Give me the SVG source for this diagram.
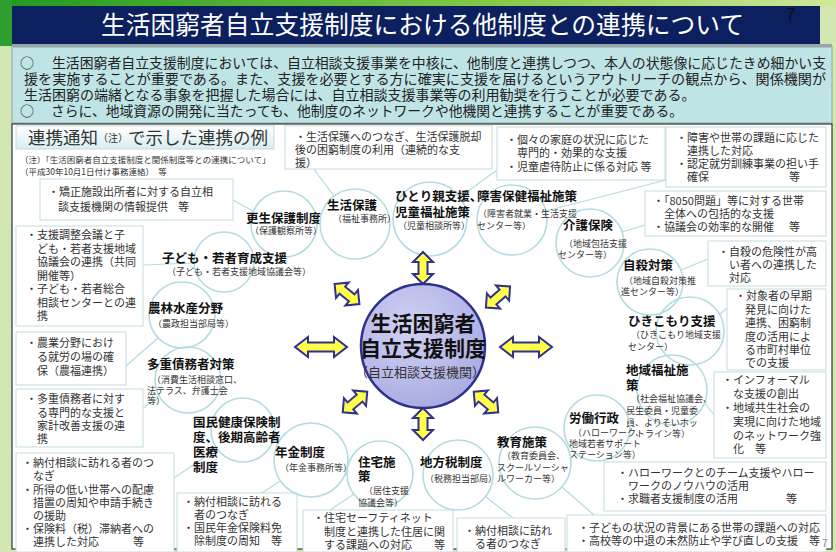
<svg xmlns="http://www.w3.org/2000/svg" width="836" height="552" viewBox="0 0 836 552">
<defs>
<style>
text{font-family:"Noto Sans CJK JP","Noto Sans CJK SC",sans-serif}
.bx{fill:#fff;stroke:#c4dbde;stroke-width:1}
.bt{font-size:11px;fill:#333}
.ci{fill:none;stroke:#b3dce1;stroke-width:1.6}
.cn line{stroke:#b3dce1;stroke-width:1.2}
.nt{font-size:12.5px;font-weight:bold;fill:#111}
.ns{font-size:9px;fill:#333}
.ar{fill:#ffff4a;stroke:#2e318f;stroke-width:2;stroke-linejoin:miter}
.intro{font-size:14px;fill:#222}
</style>
<linearGradient id="topg" x1="0" x2="1" y1="0" y2="0"><stop offset="0" stop-color="#1f9a1f"/><stop offset="0.6" stop-color="#86c94a"/><stop offset="1" stop-color="#cfe89a"/></linearGradient>
<radialGradient id="cg" cx="0.4" cy="0.35" r="0.75"><stop offset="0" stop-color="#d0d1f4"/><stop offset="1" stop-color="#a6a8e0"/></radialGradient>
<linearGradient id="bang" x1="0" y1="0" x2="0" y2="1"><stop offset="0" stop-color="#ffffff"/><stop offset="1" stop-color="#d8edf0"/></linearGradient>
<path id="ah" d="M-26,0 L-13,-10 L-13,-4.5 L13,-4.5 L13,-10 L26,0 L13,10 L13,4.5 L-13,4.5 L-13,10 Z"/>
<path id="as" d="M-16,0 L-6,-10 L-6,-4.5 L6,-4.5 L6,-10 L16,0 L6,10 L6,4.5 L-6,4.5 L-6,10 Z"/>
</defs>

<!-- page background -->
<rect x="0" y="0" width="836" height="552" fill="#d3e7b3"/>
<rect x="0" y="0" width="836" height="7" fill="url(#topg)"/>
<rect x="0" y="0" width="12" height="46" fill="#2f9e2f"/>
<rect x="12" y="6" width="808" height="38" fill="#0c1f5e"/>
<text x="101" y="34" font-size="25" fill="#fff" textLength="643" lengthAdjust="spacingAndGlyphs">生活困窮者自立支援制度における他制度との連携について</text>
<text x="786" y="20" font-size="17" fill="#111">7</text>
<rect x="12" y="44" width="820" height="3" fill="#9aa6a8"/>
<rect x="12" y="47" width="820" height="76" fill="#bfe4e6" stroke="#8fa5a8" stroke-width="1"/>
<text class="intro" x="20" y="68">○</text>
<text class="intro" x="52" y="68" textLength="774" lengthAdjust="spacingAndGlyphs">生活困窮者自立支援制度においては、自立相談支援事業を中核に、他制度と連携しつつ、本人の状態像に応じたきめ細かい支</text>
<text class="intro" x="24" y="84" textLength="802" lengthAdjust="spacingAndGlyphs">援を実施することが重要である。また、支援を必要とする方に確実に支援を届けるというアウトリーチの観点から、関係機関が</text>
<text class="intro" x="24" y="100">生活困窮の端緒となる事象を把握した場合には、自立相談支援事業等の利用勧奨を行うことが必要である。</text>
<text class="intro" x="20" y="116">○</text>
<text class="intro" x="51" y="116" textLength="632" lengthAdjust="spacingAndGlyphs">さらに、地域資源の開発に当たっても、他制度のネットワークや他機関と連携することが重要である。</text>

<rect x="12" y="124" width="820" height="425" fill="#fff" stroke="#333" stroke-width="1.2"/>

<!-- heading banner -->
<rect x="16" y="126" width="258" height="23" fill="url(#bang)" stroke="#c4dbde"/>
<text x="28" y="144" font-size="17.5" fill="#333">連携通知<tspan font-size="10" dy="-2">（注）</tspan><tspan dy="2">で示した連携の例</tspan></text>
<text x="20" y="163" font-size="8.5" fill="#333">（注）「生活困窮者自立支援制度と関係制度等との連携について」</text>
<text x="20" y="175" font-size="8.5" fill="#333">（平成30年10月1日付け事務連絡）　等</text>

<!-- connectors -->
<g id="connectors" class="cn">
<line x1="233" y1="200" x2="253" y2="211"/>
<line x1="143" y1="265" x2="194" y2="263"/>
<line x1="126" y1="366" x2="158" y2="338"/>
<line x1="143" y1="408" x2="158" y2="398"/>
<line x1="174" y1="478" x2="215" y2="450"/>
<line x1="262" y1="493" x2="280" y2="481"/>
<line x1="330" y1="510" x2="354" y2="494"/>
<line x1="513" y1="518" x2="486" y2="497"/>
<line x1="594" y1="515" x2="562" y2="487"/>
<line x1="714" y1="415" x2="704" y2="402"/>
<line x1="727" y1="308" x2="719" y2="315"/>
<line x1="708" y1="259" x2="681" y2="270"/>
<line x1="645" y1="225" x2="622" y2="232"/>
<line x1="666" y1="180" x2="546" y2="211"/>
<line x1="497" y1="170" x2="460" y2="197"/>
<line x1="313" y1="168" x2="334" y2="196"/>
</g>

<!-- text boxes -->
<g id="box-kosei-info">
<rect class="bx" x="40" y="179" width="193" height="41"/>
<text class="bt" x="48" y="196">・矯正施設出所者に対する自立相</text>
<text class="bt" x="58" y="211">談支援機関の情報提供</text>
<text class="bt" x="178" y="211">等</text>
</g>
<g id="box-kodomo-info">
<rect class="bx" x="16" y="226" width="127" height="100"/>
<text class="bt" x="26" y="239">・支援調整会議と子</text>
<text class="bt" x="37" y="253">ども・若者支援地域</text>
<text class="bt" x="37" y="266">協議会の連携（共同</text>
<text class="bt" x="37" y="280">開催等）</text>
<text class="bt" x="26" y="293">・子ども・若者総合</text>
<text class="bt" x="37" y="307">相談センターとの連</text>
<text class="bt" x="37" y="320">携</text>
</g>
<g id="box-nourin-info">
<rect class="bx" x="16" y="332" width="110" height="53"/>
<text class="bt" x="26" y="347">・農業分野におけ</text>
<text class="bt" x="37" y="361">る就労の場の確</text>
<text class="bt" x="37" y="375">保（農福連携）</text>
</g>
<g id="box-tajuu-info">
<rect class="bx" x="16" y="389" width="127" height="58"/>
<text class="bt" x="26" y="403">・多重債務者に対す</text>
<text class="bt" x="37" y="417">る専門的な支援と</text>
<text class="bt" x="37" y="430">家計改善支援の連</text>
<text class="bt" x="37" y="443">携</text>
</g>
<g id="box-kokuho-info">
<rect class="bx" x="16" y="453" width="158" height="99"/>
<text class="bt" x="22" y="467">・納付相談に訪れる者のつ</text>
<text class="bt" x="33" y="480">なぎ</text>
<text class="bt" x="22" y="494">・所得の低い世帯への配慮</text>
<text class="bt" x="33" y="507">措置の周知や申請手続き</text>
<text class="bt" x="33" y="520">の援助</text>
<text class="bt" x="22" y="533">・保険料（税）滞納者への</text>
<text class="bt" x="33" y="546">連携した対応</text>
<text class="bt" x="133" y="546">等</text>
</g>
<g id="box-nenkin-info">
<rect class="bx" x="177" y="493" width="120" height="59"/>
<text class="bt" x="183" y="506">・納付相談に訪れる</text>
<text class="bt" x="194" y="519">者のつなぎ</text>
<text class="bt" x="183" y="532">・国民年金保険料免</text>
<text class="bt" x="194" y="545">除制度の周知　等</text>
</g>
<g id="box-jutaku-info">
<rect class="bx" x="303" y="510" width="150" height="42"/>
<text class="bt" x="313" y="522">・住宅セーフティネット</text>
<text class="bt" x="324" y="536">制度と連携した住居に関</text>
<text class="bt" x="324" y="549">する課題への対応　　等</text>
</g>
<g id="box-zei-info">
<rect class="bx" x="457" y="518" width="108" height="34"/>
<text class="bt" x="464" y="535">・納付相談に訪れ</text>
<text class="bt" x="475" y="548">る者のつなぎ</text>
</g>
<g id="box-kyoiku-info">
<rect class="bx" x="567" y="515" width="259" height="37"/>
<text class="bt" x="578" y="532">・子どもの状況の背景にある世帯の課題への対応</text>
<text class="bt" x="578" y="545">・高校等の中退の未然防止や学び直しの支援　等</text>
<text x="822" y="547" font-size="10" fill="#888">7</text>
</g>
<g id="box-roudou-info">
<rect class="bx" x="604" y="462" width="222" height="49"/>
<text class="bt" x="617" y="477">・ハローワークとのチーム支援やハロー</text>
<text class="bt" x="628" y="490">ワークのノウハウの活用</text>
<text class="bt" x="617" y="503">・求職者支援制度の活用</text>
<text class="bt" x="786" y="503">等</text>
</g>
<g id="box-chiiki-info">
<rect class="bx" x="714" y="372" width="112" height="86"/>
<text class="bt" x="722" y="384">・インフォーマル</text>
<text class="bt" x="733" y="398">な支援の創出</text>
<text class="bt" x="722" y="412">・地域共生社会の</text>
<text class="bt" x="733" y="426">実現に向けた地域</text>
<text class="bt" x="733" y="440">のネットワーク強</text>
<text class="bt" x="733" y="453">化　等</text>
</g>
<g id="box-hiki-info">
<rect class="bx" x="727" y="289" width="99" height="81"/>
<text class="bt" x="735" y="300">・対象者の早期</text>
<text class="bt" x="745" y="314">発見に向けた</text>
<text class="bt" x="745" y="327">連携、困窮制</text>
<text class="bt" x="745" y="341">度の活用によ</text>
<text class="bt" x="745" y="354">る市町村単位</text>
<text class="bt" x="745" y="367">での支援</text>
</g>
<g id="box-jisatsu-info">
<rect class="bx" x="708" y="241" width="118" height="45"/>
<text class="bt" x="718" y="256">・自殺の危険性が高</text>
<text class="bt" x="729" y="269">い者への連携した</text>
<text class="bt" x="729" y="282">対応</text>
</g>
<g id="box-kaigo-info">
<rect class="bx" x="645" y="191" width="181" height="45"/>
<text class="bt" x="653" y="205">・「8050問題」等に対する世帯</text>
<text class="bt" x="664" y="218">全体への包括的な支援</text>
<text class="bt" x="653" y="231">・協議会の効率的な開催</text>
<text class="bt" x="789" y="231">等</text>
</g>
<g id="box-shogai-info">
<rect class="bx" x="666" y="127" width="160" height="60"/>
<text class="bt" x="676" y="142">・障害や世帯の課題に応じた</text>
<text class="bt" x="687" y="155">連携した対応</text>
<text class="bt" x="676" y="168">・認定就労訓練事業の担い手</text>
<text class="bt" x="687" y="181">確保</text>
<text class="bt" x="789" y="181">等</text>
</g>
<g id="box-hitori-info">
<rect class="bx" x="497" y="127" width="168" height="53"/>
<text class="bt" x="506" y="144">・個々の家庭の状況に応じた</text>
<text class="bt" x="517" y="157">専門的・効果的な支援</text>
<text class="bt" x="506" y="171">・児童虐待防止に係る対応 等</text>
</g>
<g id="box-seiho-info">
<rect class="bx" x="285" y="126" width="207" height="43"/>
<text class="bt" x="295" y="141">・生活保護へのつなぎ、生活保護脱却</text>
<text class="bt" x="295" y="154">後の困窮制度の利用（連続的な支</text>
<text class="bt" x="295" y="167">援）</text>
</g>

<!-- circle nodes -->
<g id="node-kosei"><circle class="ci" cx="284" cy="224" r="33"/>
<text class="nt" x="246" y="223">更生保護制度</text><text class="ns" x="250" y="234">（保護観察所等）</text></g>
<g id="node-seiho"><circle class="ci" cx="355" cy="224" r="35"/>
<text class="nt" x="327" y="210">生活保護</text><text class="ns" x="333" y="222">（福祉事務所）</text></g>
<g id="node-hitori"><circle class="ci" cx="430" cy="219" r="37"/>
<text class="nt" x="395" y="201">ひとり親支援、</text><text class="nt" x="395" y="217">児童福祉施策</text><text class="ns" x="398" y="229">（児童相談所等）</text></g>
<g id="node-shogai"><circle class="ci" cx="512" cy="220" r="35"/>
<text class="nt" x="477" y="201">障害保健福祉施策</text><text class="ns" x="478" y="217">（障害者就業・生活支援</text><text class="ns" x="477" y="229">センター等）</text></g>
<g id="node-kaigo"><circle class="ci" cx="590" cy="243" r="34"/>
<text class="nt" x="563" y="230">介護保険</text><text class="ns" x="564" y="247">（地域包括支援</text><text class="ns" x="558" y="258">センター等）</text></g>
<g id="node-jisatsu"><circle class="ci" cx="650" cy="282" r="33"/>
<text class="nt" x="623" y="270">自殺対策</text><text class="ns" x="624" y="284">（地域自殺対策推</text><text class="ns" x="621" y="295">進センター等）</text></g>
<g id="node-hiki"><circle class="ci" cx="690" cy="331" r="34"/>
<text class="nt" x="628" y="326">ひきこもり支援</text><text class="ns" x="631" y="338">（ひきこもり地域支援</text><text class="ns" x="628" y="350">センター）</text></g>
<g id="node-chiiki"><circle class="ci" cx="672" cy="390" r="35"/>
<text class="nt" x="626" y="375">地域福祉施</text><text class="nt" x="626" y="390">策</text><text class="ns" x="631" y="402">（社会福祉協議会、</text><text class="ns" x="626" y="414">民生委員・児童委</text><text class="ns" x="626" y="426">員、よりそいホッ</text><text class="ns" x="636" y="437">トライン等）</text></g>
<g id="node-roudou"><circle class="ci" cx="597" cy="428" r="33"/>
<text class="nt" x="569" y="423">労働行政</text><text class="ns" x="573" y="436">（ハローワーク、</text><text class="ns" x="569" y="447">地域若者サポート</text><text class="ns" x="569" y="458">ステーション等）</text></g>
<g id="node-kyoiku"><circle class="ci" cx="535" cy="463" r="36"/>
<text class="nt" x="497" y="447">教育施策</text><text class="ns" x="502" y="459">（教育委員会、</text><text class="ns" x="497" y="471">スクールソーシャ</text><text class="ns" x="497" y="482">ルワーカー等）</text></g>
<g id="node-zei"><circle class="ci" cx="458" cy="475" r="35"/>
<text class="nt" x="420" y="467">地方税制度</text><text class="ns" x="425" y="482">（税務担当部局）</text></g>
<g id="node-jutaku"><circle class="ci" cx="380" cy="474" r="33"/>
<text class="nt" x="358" y="467">住宅施</text><text class="nt" x="358" y="481">策</text><text class="ns" x="364" y="494">（居住支援</text><text class="ns" x="358" y="506">協議会等）</text></g>
<g id="node-nenkin"><circle class="ci" cx="311" cy="460" r="37"/>
<text class="nt" x="275" y="457">年金制度</text><text class="ns" x="280" y="471">（年金事務所等）</text></g>
<g id="node-kokuho"><circle class="ci" cx="243" cy="430" r="32"/>
<text class="nt" x="193" y="427">国民健康保険制</text><text class="nt" x="193" y="442">度、後期高齢者</text><text class="nt" x="193" y="457">医療</text><text class="nt" x="193" y="472">制度</text></g>
<g id="node-tajuu"><circle class="ci" cx="188" cy="380" r="33"/>
<text class="nt" x="147" y="369">多重債務者対策</text><text class="ns" x="152" y="383">（消費生活相談窓口、</text><text class="ns" x="147" y="394">法テラス、弁護士会</text><text class="ns" x="147" y="404">等）</text></g>
<g id="node-nourin"><circle class="ci" cx="182" cy="315" r="33"/>
<text class="nt" x="148" y="313">農林水産分野</text><text class="ns" x="153" y="327">（農政担当部局等）</text></g>
<g id="node-kodomo"><circle class="ci" cx="224" cy="262" r="30"/>
<text class="nt" x="162" y="263">子ども・若者育成支援</text><text class="ns" x="167" y="275">（子ども・若者支援地域協議会等）</text></g>

<!-- arrows -->
<g id="arrows">
<use href="#as" class="ar" transform="translate(423,268) rotate(90)"/>
<use href="#as" class="ar" transform="translate(423,424) rotate(90)"/>
<use href="#ah" class="ar" transform="translate(321,347)"/>
<use href="#ah" class="ar" transform="translate(526,347)"/>
<use href="#as" class="ar" transform="translate(347,294) rotate(39)"/>
<use href="#as" class="ar" transform="translate(498,297) rotate(-41)"/>
<use href="#as" class="ar" transform="translate(355,402) rotate(-40)"/>
<use href="#as" class="ar" transform="translate(486,402) rotate(40)"/>
</g>

<!-- center node -->
<g id="node-center">
<circle cx="423" cy="346" r="62" fill="url(#cg)" stroke="#2e318f" stroke-width="2.5"/>
<text x="423" y="331" text-anchor="middle" font-size="21" font-weight="bold" fill="#111">生活困窮者</text>
<text x="423" y="356" text-anchor="middle" font-size="21" font-weight="bold" fill="#111">自立支援制度</text>
<text x="420" y="377" text-anchor="middle" font-size="13" fill="#333">（自立相談支援機関）</text>
</g>
</svg>
